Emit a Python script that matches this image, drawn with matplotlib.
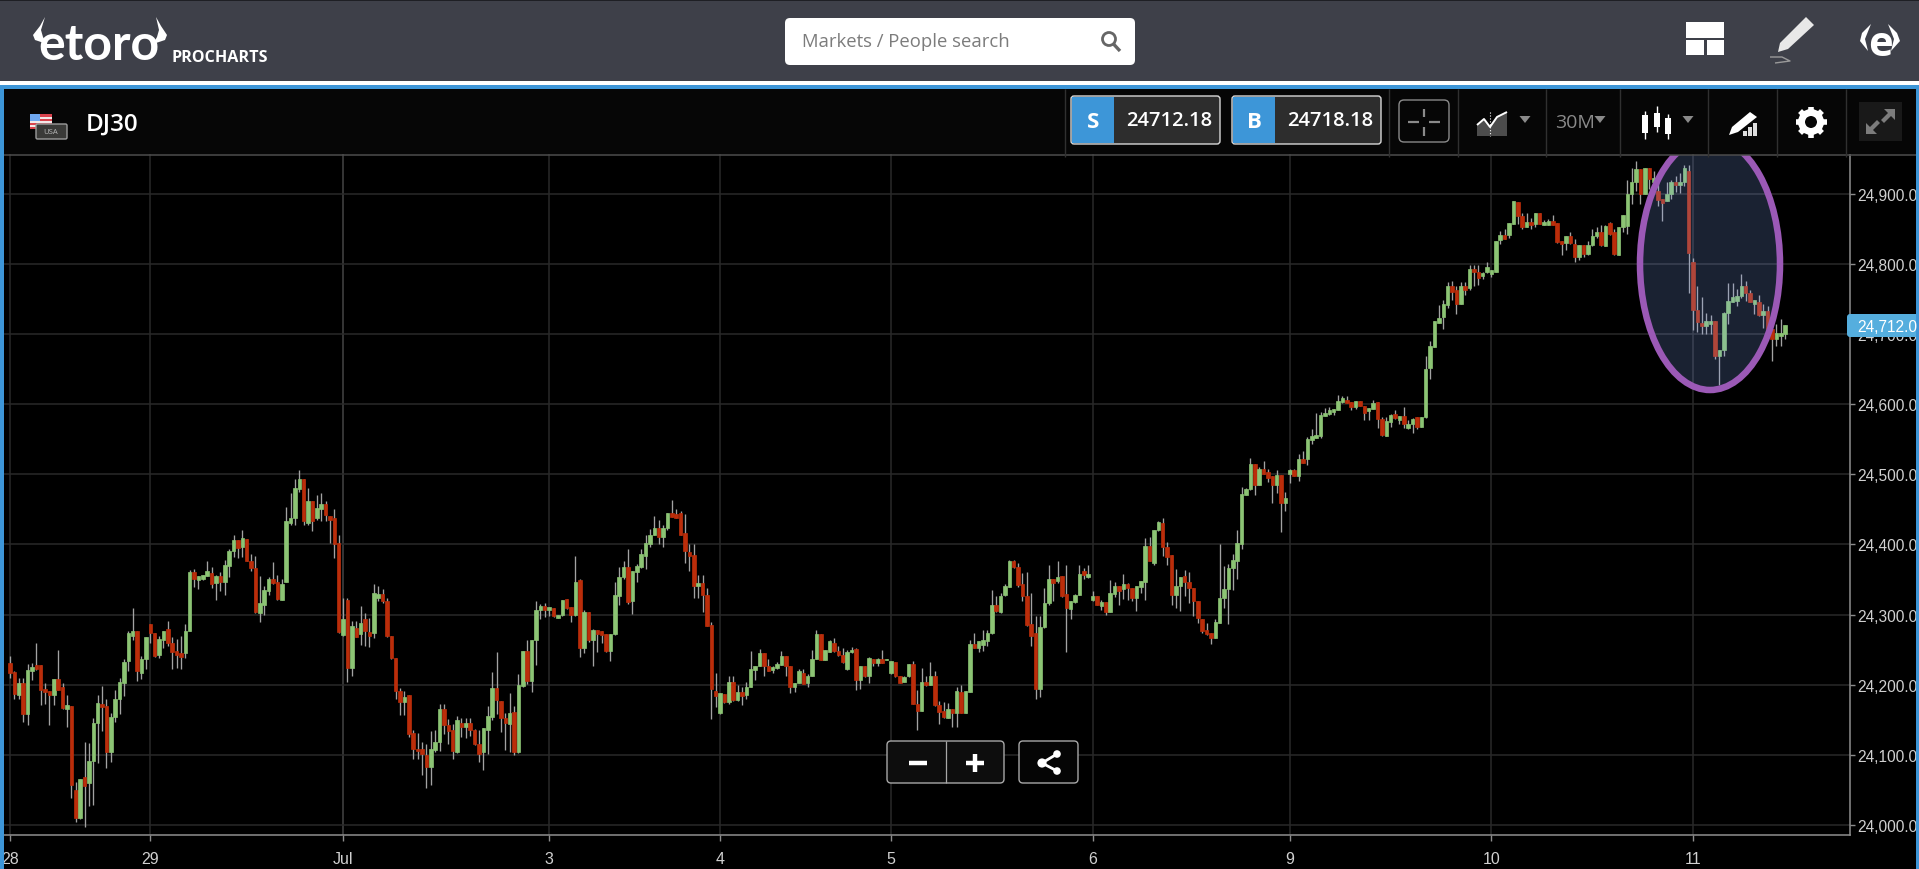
import matplotlib
matplotlib.use('Agg')
import matplotlib.pyplot as plt
import numpy as np
from matplotlib.patches import Circle, Ellipse, FancyBboxPatch, Polygon, Rectangle

# all prices below are points above this level
base_price = 24000

# one letter per 30 minute candle, G = up, R = down
directions = ('RRGRGGRRRR' 'GRRGRRGRGG' 'GRRGGGGGGR' 'GGRRGGRRRR' 'GGRGGGRGRG'
              'GGRGRRRGGG' 'RRGGGGGRGR' 'GGRRRRGRGR' 'GRRGGRRRRR' 'GRRRRRGGGR'
              'RRGRGRRRGG' 'GRRRGRGGRG' 'GGRGRGGRRG' 'RGRGRRRGGG' 'GRGGGGGGRG'
              'GRRRRRRGRR' 'RRGRGRGRGG' 'GGRRGGGRRG' 'GRGGGRGGRR' 'RGGRGRGRGR'
              'GGRRGGRRGR' 'GRRRGRGRGG' 'RGGGGRGGGR' 'RRRRRGGGRG' 'RRGGGRGGRG'
              'RGGRGRRGGG' 'RGGRRRGGRR' 'RRRRRGGGGG' 'GGGGRGRRRG' 'RGGRGRGGGG'
              'GGGGGRRGRR' 'GGRRGGRGRG' 'GRGGGGGGGR' 'RGRGRRGGGG' 'GRGGRRGRGR'
              'GGRRRGRRGR' 'GGGRGRRGGG' 'GGRGRGRRGG' 'RGGRRRRGGR' 'GGGGGGRRGR'
              'GRRGGG')

body_high = [
    231, 218, 202, 203, 221, 225, 228, 228, 194, 191,
    208, 208, 196, 171, 170, 50, 65, 68, 91, 145,
    174, 173, 170, 154, 179, 204, 233, 273, 276, 276,
    237, 268, 286, 273, 265, 276, 280, 260, 248, 245,
    277, 360, 360, 355, 357, 362, 359, 355, 355, 371,
    391, 406, 406, 409, 408, 377, 366, 316, 335, 350,
    350, 347, 344, 433, 438, 481, 493, 493, 462, 462,
    452, 457, 458, 441, 437, 402, 294, 321, 283, 281,
    288, 294, 275, 331, 329, 329, 320, 269, 238, 191,
    183, 185, 131, 109, 109, 100, 108, 119, 166, 166,
    142, 136, 149, 146, 146, 146, 136, 116, 138, 155,
    195, 195, 177, 153, 160, 161, 199, 248, 248, 264,
    306, 312, 312, 311, 310, 300, 321, 322, 311, 347,
    349, 303, 303, 278, 278, 276, 272, 272, 328, 353,
    368, 368, 362, 369, 386, 402, 414, 423, 424, 424,
    445, 445, 444, 445, 416, 389, 385, 345, 345, 328,
    285, 191, 188, 187, 204, 204, 189, 189, 196, 223,
    226, 245, 245, 227, 225, 229, 241, 241, 226, 203,
    219, 217, 212, 237, 272, 272, 249, 262, 260, 248,
    242, 246, 250, 251, 227, 227, 238, 237, 237, 236,
    237, 234, 233, 212, 211, 229, 229, 173, 204, 204,
    213, 213, 171, 163, 165, 166, 191, 189, 191, 258,
    258, 262, 263, 274, 313, 313, 327, 340, 376, 376,
    368, 343, 327, 286, 273, 282, 316, 350, 350, 354,
    355, 330, 319, 328, 358, 362, 358, 327, 327, 318,
    318, 331, 340, 340, 344, 344, 338, 340, 348, 398,
    398, 420, 432, 431, 396, 385, 340, 354, 355, 347,
    338, 319, 294, 278, 273, 289, 324, 337, 367, 378,
    402, 472, 479, 515, 514, 507, 507, 503, 497, 499,
    499, 466, 506, 506, 522, 522, 550, 555, 556, 584,
    588, 591, 593, 604, 609, 606, 603, 604, 604, 597,
    595, 601, 603, 579, 576, 585, 586, 583, 583, 572,
    579, 582, 581, 650, 683, 718, 723, 743, 768, 768,
    762, 768, 768, 793, 793, 788, 787, 795, 791, 833,
    841, 841, 858, 889, 888, 868, 860, 860, 872, 872,
    860, 861, 861, 858, 833, 840, 839, 829, 827, 827,
    827, 840, 845, 845, 854, 858, 845, 853, 870, 900,
    917, 935, 935, 937, 937, 923, 904, 892, 900, 916,
    917, 917, 936, 932, 802, 734, 716, 718, 719, 719,
    677, 730, 747, 753, 754, 768, 768, 759, 749, 746,
    733, 733, 707, 702, 702, 713]

body_low = [
    216, 187, 185, 158, 158, 219, 222, 193, 189, 185,
    185, 193, 167, 166, 57, 10, 10, 55, 60, 91,
    145, 168, 104, 104, 154, 179, 203, 234, 270, 219,
    216, 236, 274, 241, 243, 264, 259, 246, 243, 239,
    245, 276, 351, 349, 350, 355, 343, 345, 347, 347,
    369, 391, 395, 396, 377, 366, 304, 302, 314, 333,
    345, 322, 321, 346, 430, 437, 479, 434, 431, 434,
    437, 450, 442, 435, 401, 275, 271, 224, 224, 268,
    272, 276, 270, 274, 324, 319, 269, 238, 191, 176,
    176, 130, 108, 105, 101, 82, 82, 107, 119, 143,
    134, 105, 104, 139, 139, 135, 115, 101, 104, 135,
    154, 178, 153, 146, 144, 104, 104, 198, 205, 205,
    264, 306, 307, 306, 298, 295, 300, 309, 299, 299,
    253, 253, 263, 264, 272, 271, 248, 248, 272, 327,
    353, 318, 320, 361, 368, 383, 401, 414, 411, 411,
    423, 439, 437, 414, 390, 383, 340, 340, 328, 284,
    194, 184, 159, 175, 175, 178, 178, 184, 186, 196,
    221, 227, 227, 220, 221, 224, 228, 227, 196, 196,
    202, 201, 202, 212, 236, 235, 235, 246, 248, 242,
    233, 223, 246, 206, 206, 212, 212, 231, 231, 231,
    235, 216, 212, 203, 204, 212, 173, 162, 163, 199,
    200, 171, 161, 154, 153, 159, 159, 160, 160, 190,
    253, 253, 257, 262, 273, 305, 304, 328, 339, 368,
    342, 326, 285, 270, 194, 194, 282, 316, 345, 348,
    326, 310, 308, 318, 328, 357, 353, 321, 314, 312,
    304, 304, 330, 333, 336, 338, 324, 324, 339, 347,
    377, 373, 420, 397, 382, 328, 328, 340, 347, 338,
    319, 295, 277, 272, 266, 266, 288, 324, 337, 367,
    376, 400, 470, 479, 485, 485, 501, 495, 484, 484,
    459, 459, 500, 497, 497, 516, 522, 549, 552, 555,
    583, 586, 589, 592, 603, 601, 596, 596, 598, 587,
    590, 593, 579, 556, 555, 575, 580, 578, 572, 566,
    572, 568, 568, 581, 651, 682, 716, 724, 742, 760,
    743, 743, 763, 766, 788, 780, 782, 789, 786, 789,
    834, 836, 841, 857, 868, 853, 853, 855, 857, 857,
    855, 856, 856, 831, 828, 830, 830, 810, 810, 814,
    814, 827, 839, 827, 826, 842, 814, 813, 853, 854,
    900, 916, 900, 900, 921, 916, 891, 887, 890, 899,
    912, 912, 916, 816, 734, 717, 711, 712, 714, 669,
    668, 677, 730, 746, 747, 754, 759, 746, 743, 727,
    727, 707, 693, 693, 697, 700]

wick_high = [
    241, 219, 209, 210, 230, 231, 259, 228, 203, 191,
    208, 249, 202, 185, 170, 61, 65, 119, 117, 153,
    185, 198, 180, 159, 192, 210, 237, 277, 310, 276,
    241, 268, 286, 273, 269, 276, 291, 268, 265, 269,
    286, 363, 365, 355, 357, 376, 368, 357, 360, 378,
    393, 414, 406, 420, 408, 387, 383, 355, 340, 354,
    375, 357, 350, 453, 473, 493, 506, 493, 480, 462,
    471, 474, 462, 441, 451, 413, 323, 324, 291, 291,
    312, 302, 295, 343, 340, 337, 324, 269, 238, 195,
    191, 185, 136, 131, 118, 116, 134, 136, 173, 173,
    151, 144, 155, 152, 153, 152, 137, 135, 138, 170,
    218, 246, 177, 159, 188, 170, 215, 248, 263, 264,
    319, 315, 317, 311, 310, 300, 321, 322, 311, 384,
    351, 306, 303, 280, 278, 276, 272, 272, 346, 368,
    377, 393, 362, 372, 394, 413, 422, 441, 435, 427,
    445, 464, 450, 448, 444, 401, 401, 356, 356, 338,
    290, 217, 188, 187, 212, 212, 199, 196, 204, 248,
    227, 251, 245, 236, 227, 233, 248, 241, 226, 203,
    222, 223, 215, 249, 278, 272, 250, 264, 267, 255,
    253, 249, 254, 253, 227, 227, 240, 237, 238, 249,
    237, 234, 233, 212, 212, 229, 234, 192, 224, 212,
    233, 219, 177, 176, 174, 166, 197, 200, 191, 264,
    274, 262, 278, 278, 335, 326, 331, 343, 378, 378,
    373, 359, 360, 331, 298, 298, 338, 371, 350, 377,
    355, 370, 319, 330, 370, 366, 370, 333, 327, 321,
    318, 349, 347, 341, 358, 345, 338, 340, 348, 409,
    410, 420, 433, 437, 404, 385, 365, 354, 363, 361,
    338, 319, 294, 288, 273, 294, 400, 369, 372, 386,
    421, 482, 481, 523, 514, 510, 519, 507, 497, 506,
    499, 475, 508, 507, 529, 533, 553, 564, 588, 589,
    595, 596, 593, 613, 612, 612, 603, 605, 604, 597,
    595, 606, 603, 581, 581, 586, 592, 583, 596, 578,
    580, 582, 581, 668, 690, 718, 742, 749, 774, 775,
    769, 774, 774, 799, 799, 799, 788, 802, 791, 833,
    847, 849, 858, 889, 888, 873, 872, 866, 872, 872,
    862, 864, 869, 858, 833, 840, 846, 836, 827, 827,
    833, 849, 852, 855, 855, 860, 849, 853, 870, 920,
    937, 946, 935, 937, 937, 932, 916, 892, 916, 920,
    925, 930, 941, 941, 808, 769, 753, 730, 727, 719,
    677, 731, 772, 772, 764, 785, 776, 762, 749, 756,
    743, 740, 707, 714, 722, 713]

wick_low = [
    209, 180, 179, 147, 143, 207, 221, 171, 173, 143,
    171, 192, 166, 140, 39, 4, 8, -3, 27, 29,
    88, 134, 81, 90, 147, 158, 184, 219, 264, 205,
    208, 222, 260, 240, 238, 253, 255, 223, 224, 223,
    238, 276, 339, 336, 349, 355, 338, 321, 333, 328,
    354, 382, 381, 382, 376, 362, 302, 290, 299, 328,
    343, 321, 321, 346, 427, 428, 475, 427, 428, 419,
    435, 433, 433, 402, 381, 273, 270, 204, 212, 268,
    256, 255, 254, 267, 319, 317, 268, 236, 179, 157,
    157, 126, 94, 94, 71, 52, 57, 104, 105, 130,
    116, 94, 103, 125, 124, 127, 114, 90, 78, 101,
    149, 158, 132, 107, 104, 100, 102, 196, 201, 190,
    228, 294, 296, 298, 297, 295, 298, 308, 289, 298,
    239, 245, 261, 227, 246, 259, 247, 234, 271, 313,
    351, 315, 301, 346, 367, 365, 397, 413, 400, 397,
    421, 439, 437, 413, 373, 362, 323, 323, 303, 284,
    151, 168, 158, 174, 173, 177, 177, 171, 180, 196,
    207, 227, 213, 219, 217, 222, 228, 213, 188, 190,
    202, 201, 196, 212, 236, 235, 235, 246, 246, 241,
    231, 221, 245, 193, 194, 211, 203, 227, 227, 231,
    235, 215, 211, 203, 204, 211, 172, 136, 162, 198,
    200, 170, 144, 153, 152, 140, 140, 159, 159, 189,
    252, 246, 248, 255, 272, 303, 302, 326, 339, 366,
    339, 320, 284, 255, 179, 182, 281, 314, 319, 345,
    325, 246, 294, 317, 328, 351, 352, 320, 313, 307,
    300, 303, 325, 313, 322, 321, 319, 305, 331, 321,
    377, 371, 419, 383, 371, 314, 309, 305, 326, 317,
    298, 288, 274, 271, 258, 266, 288, 310, 286, 335,
    350, 394, 470, 478, 470, 484, 501, 489, 459, 473,
    417, 447, 488, 497, 490, 516, 513, 543, 552, 552,
    583, 584, 584, 592, 601, 601, 591, 593, 597, 578,
    577, 593, 566, 555, 554, 567, 579, 572, 566, 565,
    559, 564, 567, 580, 636, 682, 716, 707, 737, 748,
    729, 743, 756, 762, 769, 770, 779, 787, 781, 788,
    828, 836, 837, 857, 857, 849, 852, 849, 852, 857,
    855, 855, 855, 830, 813, 820, 828, 803, 806, 810,
    813, 826, 837, 826, 826, 841, 813, 812, 845, 842,
    885, 904, 885, 899, 906, 901, 883, 861, 890, 892,
    902, 901, 911, 759, 705, 703, 700, 700, 700, 665,
    627, 669, 714, 745, 740, 752, 747, 745, 728, 726,
    709, 706, 662, 683, 683, 693]

date_positions = [0, 32, 76, 123, 162, 201, 247, 292, 338, 384]
date_labels = ['28', '29', 'Jul', '3', '4', '5', '6', '9', '10', '11']
price_ticks = [24000, 24100, 24200, 24300, 24400, 24500, 24600, 24700, 24800, 24900]
last_price = 24712
sell_price = '24712.18'
buy_price = '24718.18'

W, H = 1919, 870
UP = '#8cc474'
DOWN = '#bb2d0a'
BLUE = '#3d96d8'
HEADER = '#3e4049'
UI_FONT = ['Open Sans', 'DejaVu Sans']
AXIS_FONT = ['Liberation Sans', 'DejaVu Sans']

fig = plt.figure(figsize=(W / 100, H / 100), dpi=100, facecolor='black')

# Price panel
ax = fig.add_axes([4 / W, (H - 836) / H, 1846 / W, 681 / H], facecolor='black', zorder=1)
index = np.arange(len(directions))
colors = [UP if d == 'G' else DOWN for d in directions]
tops = np.array(body_high) + base_price
bottoms = np.array(body_low) + base_price
ax.vlines(index, np.array(wick_low) + base_price, np.array(wick_high) + base_price,
          color='#a2a2a2', lw=0.95, zorder=2)
ax.bar(index, tops - bottoms, bottom=bottoms, width=0.8, color=colors, edgecolor=colors,
       linewidth=0.5, zorder=3)

ax.set_xlim(-1.37, 419.8)
ax.set_ylim(23985.7, 24956.6)
ax.set_xticks(date_positions, date_labels, family=AXIS_FONT, fontsize=11.5, color='#d0d0d0')
ax.yaxis.tick_right()
ax.set_yticks(price_ticks, [f'{p:,.1f}' for p in price_ticks], family=AXIS_FONT, fontsize=11.2,
              color='#d0d0d0')
ax.tick_params(axis='x', length=4.5, width=1, color='#8c8c8c', pad=7)
ax.tick_params(axis='y', length=3.6, width=1, color='#8c8c8c', pad=1.4)
ax.grid(True, color='#292929', lw=1.1, zorder=0)
ax.get_xgridlines()[2].set_color('#444444')
for side in ['top', 'left']:
    ax.spines[side].set_visible(False)
for side in ['bottom', 'right']:
    ax.spines[side].set_color('#8f8f8f')
    ax.spines[side].set_linewidth(1.1)

# Everything else sits on a pixel canvas above the panel
ui = fig.add_axes([0, 0, 1, 1], zorder=5)
ui.set_xlim(0, W)
ui.set_ylim(H, 0)
ui.axis('off')
ui.patch.set_alpha(0)


def rect(x0, y0, x1, y1, color, **kw):
    ui.add_patch(Rectangle((x0, y0), x1 - x0, y1 - y0, facecolor=color, edgecolor='none', **kw))


def box(x0, y0, x1, y1, face, edge, r=4, lw=1.0):
    ui.add_patch(FancyBboxPatch((x0 + r, y0 + r), x1 - x0 - 2 * r, y1 - y0 - 2 * r,
                                boxstyle=f'round,pad={r},rounding_size={r}',
                                facecolor=face, edgecolor=edge, lw=lw))


def poly(points, color, **kw):
    ui.add_patch(Polygon(points, closed=True, facecolor=color, edgecolor='none', **kw))


def line(xs, ys, color='white', lw=1.0, **kw):
    ui.plot(xs, ys, color=color, lw=lw, solid_capstyle='butt', **kw)


def label(x, y, s, size, color='white', weight='normal', family=UI_FONT, ha='center'):
    ui.text(x, y, s, fontsize=size, color=color, fontweight=weight, family=family,
            ha=ha, va='center')


# Highlight ellipse, cut off by the toolbar
clip = Rectangle((0, 156), W, H, transform=ui.transData)
ell_fill = Ellipse((1710, 265), 140, 252, facecolor=(0.53, 0.67, 1.0, 0.2), edgecolor='none')
ell_edge = Ellipse((1710, 265), 140, 252, facecolor='none', edgecolor='#9b59b6', lw=4.7)
for e in [ell_fill, ell_edge]:
    ui.add_patch(e)
    e.set_clip_path(clip)

# Last price tag
box(1847, 315, 1925, 338, '#55aede', 'none', r=3)
label(1857, 327.5, f'{last_price:,.1f}', 11.2, family=AXIS_FONT, ha='left')

# Header bar
rect(0, 0, W, 82, HEADER)
rect(0, 0, W, 1.5, '#1e1f24')
rect(0, 82, W, 86, 'white')
rect(0, 86, W, 90, BLUE)
rect(0, 86, 4, H, BLUE)
rect(1916, 86, W, H, BLUE)
rect(4, 90, 1916, 155, '#060606')
line([4, 1916], [155.5, 155.5], '#4d4d4d', 1.1)

# Logo
poly([(45, 18), (40, 27), (33, 36), (35, 41), (47, 45), (43, 38), (41, 31)], 'white')
poly([(156, 18), (161, 27), (167, 36), (165, 41), (153, 45), (157, 38), (159, 31)], 'white')
label(99, 45, 'etoro', 36, weight='bold', family=['Lato', 'DejaVu Sans'])
label(220, 57.5, 'PROCHARTS', 11.6, weight='bold')

# Search box
box(785, 19, 1135, 66, 'white', 'none', r=5)
label(802, 42, 'Markets / People search', 13.3, color='#7c7c7c', ha='left')
ui.add_patch(Circle((1109, 40), 6.5, facecolor='none', edgecolor='#666666', lw=2))
line([1113.5, 1120], [45, 52], '#666666', 2.4)

# Header icons
rect(1686, 23, 1724, 38.5, 'white')
rect(1686, 41, 1703.5, 56, 'white')
rect(1706.5, 41, 1724, 56, 'white')
poly([(1806, 18), (1814, 26), (1788, 50), (1778, 53), (1780, 44)], '#e8e8e8')
line([1770, 1782, 1790, 1775], [58, 58, 62, 64], '#9a9a9a', 1)
poly([(1871, 25), (1862, 34), (1860, 42), (1868, 52), (1865, 40)], 'white')
poly([(1888, 25), (1897, 34), (1900, 42), (1891, 52), (1894, 40)], 'white')
label(1880, 45, 'e', 30, weight='bold')

# Instrument
poly([(30, 115), (52, 115), (52, 130), (30, 130)], '#d9434e')
for y in [118, 122, 126]:
    rect(30, y, 52, y + 1.6, '#f2e8e8')
rect(30, 115, 40, 122, '#6fa8f0')
box(36, 125, 67, 140, '#3a3a38', '#9c9c9c', r=1.5)
label(51, 132.5, 'USA', 5.5, color='#b8b8b8')
label(86, 125, 'DJ30', 17.5, weight='semibold', ha='left')

# Sell and buy buttons
for x0, letter, price in [(1071, 'S', sell_price), (1232, 'B', buy_price)]:
    box(x0, 97, x0 + 149, 145, '#2d2d2d', '#d8d8d8', r=3)
    rect(x0 + 1, 98, x0 + 43, 144, BLUE)
    label(x0 + 22, 122, letter, 16, weight='bold')
    label(x0 + 98, 121, price, 14.5, weight='semibold')

# Toolbar
for x in [1065, 1389, 1458, 1546, 1620, 1708, 1777, 1846]:
    line([x, x], [90, 158], '#303030', 1)
box(1399, 101, 1449, 143, '#060606', '#8a8a8a', r=5)
line([1424, 1424], [110, 118], '#8a8a8a', 1.6)
line([1424, 1424], [128, 137], '#8a8a8a', 1.6)
line([1408, 1419], [123, 123], '#8a8a8a', 1.6)
line([1429, 1440], [123, 123], '#8a8a8a', 1.6)
poly([(1477, 137), (1477, 126), (1484, 120), (1490, 128), (1497, 118), (1507, 113), (1507, 137)],
     '#4c4c4c')
line([1477, 1484, 1490, 1497, 1507], [126, 120, 128, 118, 113], 'white', 1.4)
line([1490, 1490], [113, 137], 'white', 0.8, linestyle=':')
for x in [1525, 1600, 1688]:
    poly([(x - 5.5, 117), (x + 5.5, 117), (x, 124)], '#8a8a8a')
label(1575, 123, '30M', 14, color='#8a8a8a')
for x, y0, y1, b0, b1 in [(1645, 112, 140, 116, 134), (1657, 107, 133, 114, 128), (1668, 115, 140, 119, 135)]:
    line([x, x], [y0, y1], 'white', 1)
    rect(x - 3.2, b0, x + 3.2, b1, 'white')
poly([(1750, 113), (1757, 118), (1738, 133), (1729, 136), (1732, 128)], 'white')
for x, y in [(1743, 132), (1748, 128), (1753, 124)]:
    rect(x, y, x + 3.6, 137, '#dddddd')
ui.add_patch(Circle((1811, 123), 9.5, facecolor='none', edgecolor='white', lw=5))
for a in np.deg2rad(np.arange(0, 360, 45)):
    line([1811 + 11 * np.cos(a), 1811 + 15.5 * np.cos(a)],
         [123 + 11 * np.sin(a), 123 + 15.5 * np.sin(a)], 'white', 4)
rect(1859, 103, 1902, 142, '#191919')
poly([(1895, 110), (1895, 121), (1891, 117), (1884, 124), (1881, 121), (1888, 114), (1884, 110)], '#7c7c7c')
poly([(1866, 135), (1866, 124), (1870, 128), (1877, 121), (1880, 124), (1873, 131), (1877, 135)], '#7c7c7c')

# Zoom and share buttons
box(887, 742, 1004, 784, '#0d0d0d', '#a8a8a8', r=4)
line([946, 946], [742, 784], '#a8a8a8', 0.9)
box(1019, 742, 1078, 784, '#050505', '#a8a8a8', r=4)
line([909, 927], [764, 764], 'white', 3.2)
line([966, 984], [764, 764], 'white', 3.2)
line([975, 975], [755, 773], 'white', 3.2)
line([1057, 1042, 1057], [755, 764, 772], 'white', 2)
for cx, cy, r in [(1042, 764, 4.6), (1057, 755, 3.8), (1057, 772, 3.8)]:
    ui.add_patch(Circle((cx, cy), r, facecolor='white', edgecolor='none'))

plt.savefig('out.png', dpi=100, facecolor='black')
